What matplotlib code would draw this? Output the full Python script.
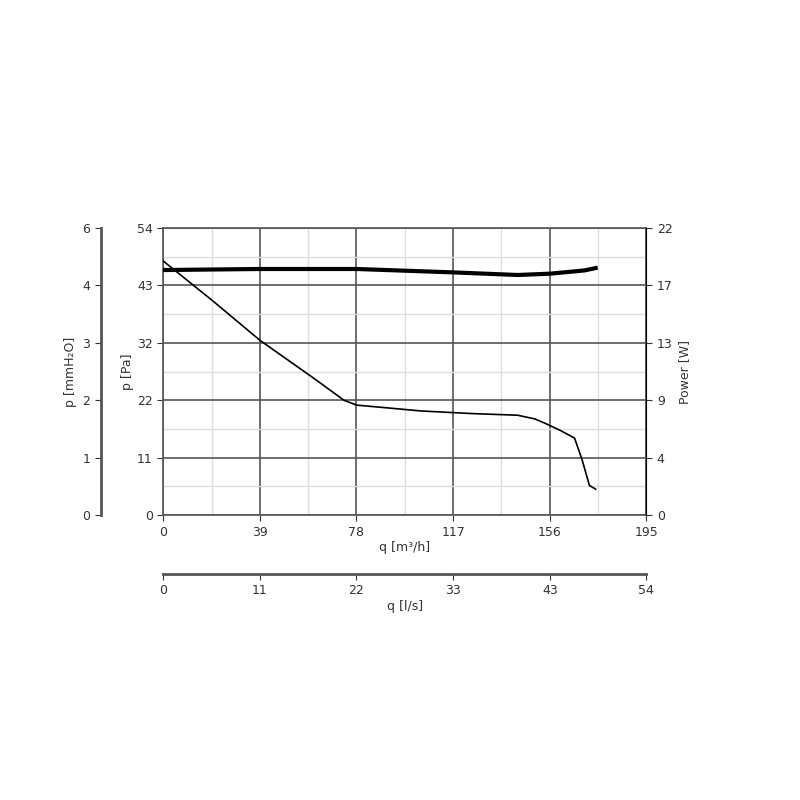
import numpy as np
import matplotlib.pyplot as plt

# ── data ─────────────────────────────────────────────────────────────────────
q_press = [0, 20, 39, 60, 73, 78, 90, 104, 125, 143, 150, 154, 160, 166, 169, 172, 174.5]
p_press = [47.8, 40.3, 32.9, 26.0, 21.6, 20.7, 20.2, 19.6, 19.1, 18.8, 18.1, 17.3, 16.0, 14.5, 10.5, 5.6, 4.9]

q_power = [0, 39, 78, 117, 143, 156, 170, 174.5]
power = [18.78, 18.86, 18.86, 18.6, 18.4, 18.5, 18.75, 18.93]

x_ticks = [0, 39, 78, 117, 156, 195]
pa_labels = ["0", "11", "22", "32", "43", "54"]
mm_labels = ["0", "1", "2", "3", "4", "6"]
w_labels = ["0", "4", "9", "13", "17", "22"]
ls_labels = ["0", "11", "22", "33", "43", "54"]

dark = "#333333"
fig = plt.figure(figsize=(8, 8), dpi=100)
ax = fig.add_axes([0.204, 0.356, 0.604, 0.359])
ax.set_xlim(0, 195)
ax.set_ylim(0, 54)

pa_ticks = np.linspace(0, 54, 6)
ax.set_xticks(x_ticks)
ax.set_yticks(pa_ticks)
ax.set_yticklabels(pa_labels)
ax.set_xticks(np.arange(0, 196, 19.5), minor=True)
ax.set_yticks(np.arange(0, 54.1, 5.4), minor=True)
ax.grid(which="minor", color="#dddddd", lw=1)
ax.grid(which="major", color="#555555", lw=1.2)
ax.tick_params(which="minor", length=0)
ax.tick_params(colors=dark, labelsize=9, length=4)
for s in ax.spines.values():
    s.set_color("#555555")
    s.set_linewidth(1.2)
ax.set_axisbelow(True)

ax.plot(q_press, p_press, color="black", lw=1.2, zorder=3)
# power plotted on same axes scaled to 0-22 W
ax.plot(q_power, np.array(power) * 54 / 22, color="black", lw=3, zorder=3)

ax.set_xlabel("q [m³/h]", color=dark, fontsize=9, labelpad=2)
ax.set_ylabel("p [Pa]", color=dark, fontsize=9, labelpad=2)

# right axis: power
axr = ax.twinx()
axr.set_ylim(0, 22)
axr.set_yticks(np.linspace(0, 22, 6))
axr.set_yticklabels(w_labels)
axr.set_ylabel("Power [W]", color=dark, fontsize=9)
axr.tick_params(colors=dark, labelsize=9, length=4)

# left outer axis: mmH2O
axm = ax.twinx()
axm.spines["left"].set_position(("outward", 45))
axm.spines["left"].set_visible(True)
axm.spines["right"].set_visible(False)
axm.yaxis.set_ticks_position("left")
axm.yaxis.set_label_position("left")
axm.set_ylim(0, 54)
axm.set_yticks(pa_ticks)
axm.set_yticklabels(mm_labels)
axm.spines["left"].set_color("#555555")
axm.spines["left"].set_linewidth(2)
axm.tick_params(colors=dark, labelsize=9, length=4)
axm.set_ylabel("p [mmH₂O]", color=dark, fontsize=9)

# bottom outer axis: l/s
axs = ax.twiny()
axs.spines["bottom"].set_position(("outward", 42))
axs.spines["bottom"].set_visible(True)
axs.spines["top"].set_visible(False)
axs.xaxis.set_ticks_position("bottom")
axs.xaxis.set_label_position("bottom")
axs.set_xlim(0, 195)
axs.set_xticks(x_ticks)
axs.set_xticklabels(ls_labels)
axs.spines["bottom"].set_color("#555555")
axs.spines["bottom"].set_linewidth(2)
axs.tick_params(colors=dark, labelsize=9, length=4)
axs.set_xlabel("q [l/s]", color=dark, fontsize=9, labelpad=2)

for a in (axr, axm, axs):
    for name in ("top", "right", "left", "bottom"):
        if a is axr and name == "right":
            continue
        if a is axm and name == "left":
            continue
        if a is axs and name == "bottom":
            continue
        a.spines[name].set_visible(False)

fig.savefig("out.png", dpi=100)
